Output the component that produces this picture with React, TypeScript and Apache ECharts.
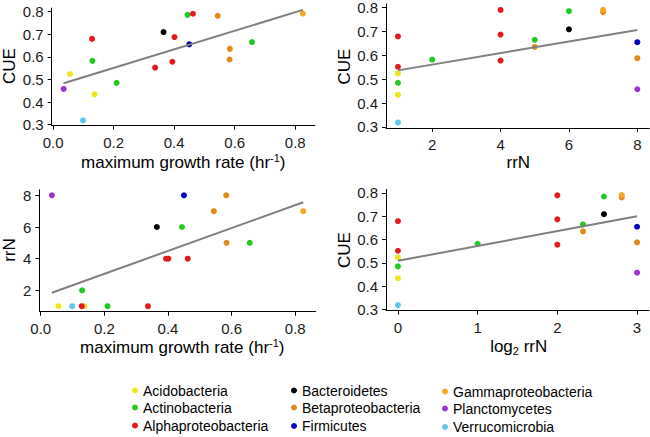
import React, { useEffect, useRef } from "react";
import * as echarts from "echarts";

// ---- data ----
const phyla = [
  "Acidobacteria",
  "Actinobacteria",
  "Alphaproteobacteria",
  "Bacteroidetes",
  "Betaproteobacteria",
  "Firmicutes",
  "Gammaproteobacteria",
  "Planctomycetes",
  "Verrucomicrobia",
];
const phylumColors = [
  "#EDE61C",
  "#22C922",
  "#E31A1C",
  "#000000",
  "#E08A1A",
  "#0000BE",
  "#F5A623",
  "#9A34CC",
  "#5EC8E8",
];

const organismPhylum = [
  "Planctomycetes",
  "Acidobacteria",
  "Acidobacteria",
  "Verrucomicrobia",
  "Alphaproteobacteria",
  "Actinobacteria",
  "Actinobacteria",
  "Alphaproteobacteria",
  "Bacteroidetes",
  "Alphaproteobacteria",
  "Alphaproteobacteria",
  "Actinobacteria",
  "Alphaproteobacteria",
  "Firmicutes",
  "Betaproteobacteria",
  "Betaproteobacteria",
  "Betaproteobacteria",
  "Actinobacteria",
  "Gammaproteobacteria",
];
const growthRate = [
  0.035, 0.056, 0.137, 0.099, 0.129, 0.13, 0.21, 0.337, 0.365, 0.394, 0.401,
  0.444, 0.462, 0.45, 0.544, 0.584, 0.583, 0.657, 0.825,
];
const cue = [
  0.458, 0.524, 0.434, 0.319, 0.679, 0.582, 0.485, 0.552, 0.709, 0.578, 0.687,
  0.785, 0.79, 0.655, 0.781, 0.635, 0.588, 0.665, 0.791,
];
const rrN = [8, 1, 1, 1, 1, 2, 1, 1, 6, 4, 4, 6, 4, 8, 7, 5, 8, 5, 7];

// fitted (lm) line end points
const fitGrowthCue = [
  [0.035, 0.483],
  [0.825, 0.807],
];
const fitRrnCue = [
  [1, 0.537],
  [8, 0.706],
];
const fitGrowthRrn = [
  [0.035, 1.85],
  [0.825, 7.56],
];
const fitLogRrnCue = [
  [0, 0.509],
  [3, 0.7],
];

// tick labels
const cueTicks = [0.3, 0.4, 0.5, 0.6, 0.7, 0.8];
const growthTicks = [0, 0.2, 0.4, 0.6, 0.8];
const rrnTicks = [2, 4, 6, 8];
const logTicks = [0, 1, 2, 3];

const FONT = '"Liberation Sans", Arial, Helvetica, sans-serif';

export default function App() {
  const ref = useRef<HTMLDivElement>(null);

  useEffect(() => {
    if (!ref.current) return;
    const chart = echarts.init(ref.current, null, { renderer: "svg" });

    const log2rrN = rrN.map((v) => Math.log2(v));
    const panels = [
      { x: growthRate, y: cue, fit: fitGrowthCue },
      { x: rrN, y: cue, fit: fitRrnCue },
      { x: growthRate, y: rrN, fit: fitGrowthRrn },
      { x: log2rrN, y: cue, fit: fitLogRrnCue },
    ];

    const grids = [
      { left: 51.7, top: 8.1, width: 263.1, height: 117.6 },
      { left: 386, top: 4, width: 263.3, height: 124 },
      { left: 39.3, top: 189.8, width: 276.5, height: 121.9 },
      { left: 386, top: 189.5, width: 263, height: 121 },
    ];

    const axisCommon = (ticks: number[], digits: number | null, isY: boolean) => ({
      type: "value" as const,
      splitLine: { show: false },
      axisLine: { show: true, onZero: false, lineStyle: { color: "#000", width: 1 } },
      axisTick: {
        show: true,
        length: 4,
        lineStyle: { color: "#000", width: 1 },
        customValues: ticks,
      },
      axisLabel: {
        customValues: ticks,
        color: "#1a1a1a",
        fontSize: 15,
        fontFamily: FONT,
        margin: isY ? 8 : 9,
        formatter: (v: number) => (digits === null ? String(v) : v.toFixed(digits)),
      },
    });

    const xAxes = [
      { ...axisCommon(growthTicks, 1, false), min: -0.0045, max: 0.8645, gridIndex: 0 },
      { ...axisCommon(rrnTicks, null, false), min: 0.65, max: 8.35, gridIndex: 1 },
      { ...axisCommon(growthTicks, 1, false), min: -0.0045, max: 0.8645, gridIndex: 2 },
      { ...axisCommon(logTicks, null, false), min: -0.15, max: 3.15, gridIndex: 3 },
    ];
    const yAxes = [
      { ...axisCommon(cueTicks, 1, true), min: 0.2956, max: 0.815, gridIndex: 0 },
      { ...axisCommon(cueTicks, 1, true), min: 0.2956, max: 0.815, gridIndex: 1 },
      { ...axisCommon(rrnTicks, null, true), min: 0.65, max: 8.35, gridIndex: 2 },
      { ...axisCommon(cueTicks, 1, true), min: 0.2956, max: 0.815, gridIndex: 3 },
    ];

    const series: any[] = [];
    panels.forEach((p, k) => {
      phyla.forEach((name, ci) => {
        const data: number[][] = [];
        organismPhylum.forEach((ph, i) => {
          if (ph === name) data.push([p.x[i], p.y[i]]);
        });
        series.push({
          type: "scatter",
          name,
          xAxisIndex: k,
          yAxisIndex: k,
          data,
          symbol: "circle",
          symbolSize: 6,
          itemStyle: { color: phylumColors[ci], opacity: 1 },
          z: 2,
        });
      });
      series.push({
        type: "line",
        name: "fit" + k,
        xAxisIndex: k,
        yAxisIndex: k,
        data: p.fit,
        symbol: "none",
        lineStyle: { color: "#7f7f7f", width: 2 },
        z: 3,
        silent: true,
      });
    });

    const legendCols = [135, 294, 445];
    const legendRows = [
      [390.5, 407.5, 425.5],
      [390.5, 407.5, 426],
      [391.5, 408.5, 427],
    ];
    const legends = phyla.map((name, i) => {
      const c = Math.floor(i / 3);
      const r = i % 3;
      return {
        data: [name],
        left: legendCols[c] - 3,
        top: legendRows[c][r] - 8,
        padding: 0,
        icon: "circle",
        itemWidth: 6,
        itemHeight: 6,
        selectedMode: false,
        textStyle: { fontSize: 14, lineHeight: 16, color: "#000", fontFamily: FONT },
      };
    });

    const titleStyle = { fontSize: 17, fontFamily: FONT, fill: "#000" };
    const rich = {
      sup: { fontSize: 11, lineHeight: 11, verticalAlign: "top", fontFamily: FONT, fill: "#000" },
      sub: { fontSize: 11, lineHeight: 11, verticalAlign: "bottom", fontFamily: FONT, fill: "#000" },
    };
    const mkText = (text: string, x: number, y: number, rotate = false) => ({
      type: "text",
      x,
      y,
      rotation: rotate ? Math.PI / 2 : 0,
      style: {
        ...titleStyle,
        text,
        lineHeight: 20,
        align: "center",
        verticalAlign: "middle",
        rich,
      },
    });

    chart.setOption({
      animation: false,
      backgroundColor: "#fff",
      grid: grids,
      xAxis: xAxes,
      yAxis: yAxes,
      series,
      legend: legends,
      graphic: [
        mkText("maximum growth rate (hr{sup|-1})", 183.3, 162.5),
        mkText("rrN", 518.3, 162.5),
        mkText("maximum growth rate (hr{sup|-1})", 182.3, 347.5),
        mkText("log{sub|2} rrN", 518.7, 346.5),
        mkText("CUE", 9, 66, true),
        mkText("CUE", 344, 66.5, true),
        mkText("rrN", 9, 250, true),
        mkText("CUE", 344, 250, true),
      ],
    });

    return () => chart.dispose();
  }, []);

  return (
    <div
      ref={ref}
      style={{ position: "absolute", left: 0, top: 0, width: 650, height: 437 }}
    />
  );
}
